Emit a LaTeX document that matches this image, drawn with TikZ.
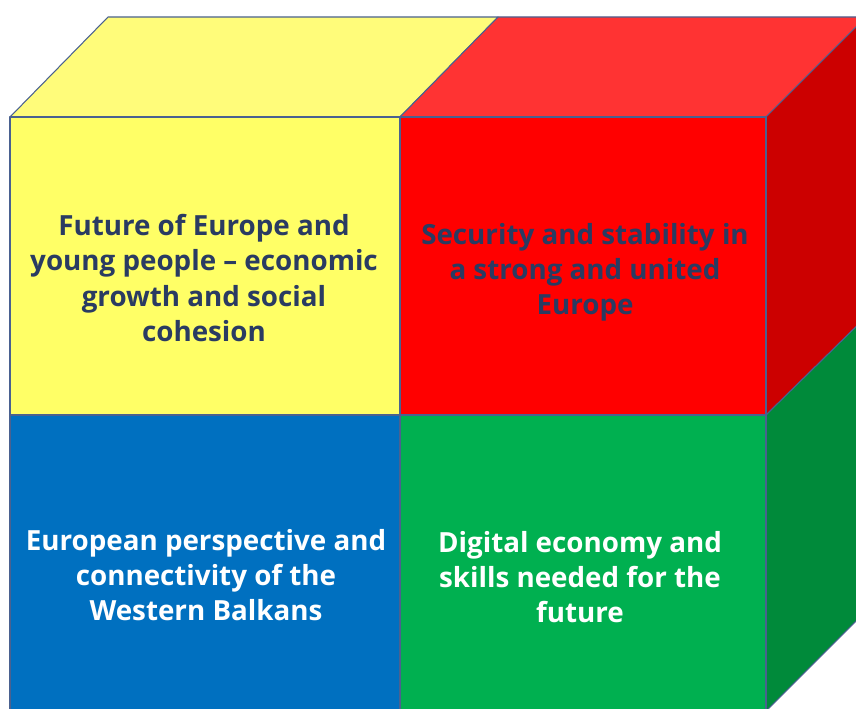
\documentclass[tikz,border=0pt]{standalone}
\usepackage{fontspec}
\setmainfont{Open Sans}
\definecolor{edgeblue}{HTML}{4A6190}
\definecolor{navytext}{HTML}{2A3B62}
\definecolor{frontyellow}{HTML}{FFFF66}
\definecolor{topyellow}{HTML}{FFFC7A}
\definecolor{frontred}{HTML}{FF0000}
\definecolor{topred}{HTML}{FF3333}
\definecolor{sidered}{HTML}{CC0000}
\definecolor{frontblue}{HTML}{0070C0}
\definecolor{frontgreen}{HTML}{00B050}
\definecolor{sidegreen}{HTML}{008A3A}
\tikzset{
  face/.style={draw=edgeblue, line width=0.6pt, line join=round},
  facetext/.style={font=\bfseries\fontsize{15.8}{20}\selectfont, align=center, text=navytext},
  whitetext/.style={facetext, text=white}
}
\begin{document}
\begin{tikzpicture}[x=0.02cm, y=-0.02cm]
\useasboundingbox (0,0) rectangle (856,709);
\begin{scope}
\clip (0,0) rectangle (856,709);
% top faces
\filldraw [face, fill=topyellow] (10,117) -- (108,17) -- (498,17) -- (400,117) -- cycle;
\filldraw [face, fill=topred] (400,117) -- (498,17) -- (866,17) -- (766,117) -- cycle;
% right side
\filldraw [face, fill=sidered] (766,117) -- (866,17) -- (866,317) -- (766,415) -- cycle;
\filldraw [face, fill=sidegreen] (766,415) -- (866,317) -- (866,611) -- (766,711) -- cycle;
% front faces
\filldraw [face, fill=frontyellow] (10,117) rectangle (400,415);
\filldraw [face, fill=frontred] (400,117) rectangle (766,415);
\filldraw [face, fill=frontblue] (10,415) rectangle (400,711);
\filldraw [face, fill=frontgreen] (400,415) rectangle (766,711);
\end{scope}

\node [facetext] (future) at (204,278) {Future of Europe and\\young people -- economic\\growth and social\\cohesion};
\node [facetext] (security) at (585,272) {Security and stability in\\a strong and united\\Europe};
\node [whitetext] (balkans) at (206,575) {European perspective and\\connectivity of the\\Western Balkans};
\node [whitetext] (digital) at (580,577) {Digital economy and\\skills needed for the\\future};
\end{tikzpicture}
\end{document}
